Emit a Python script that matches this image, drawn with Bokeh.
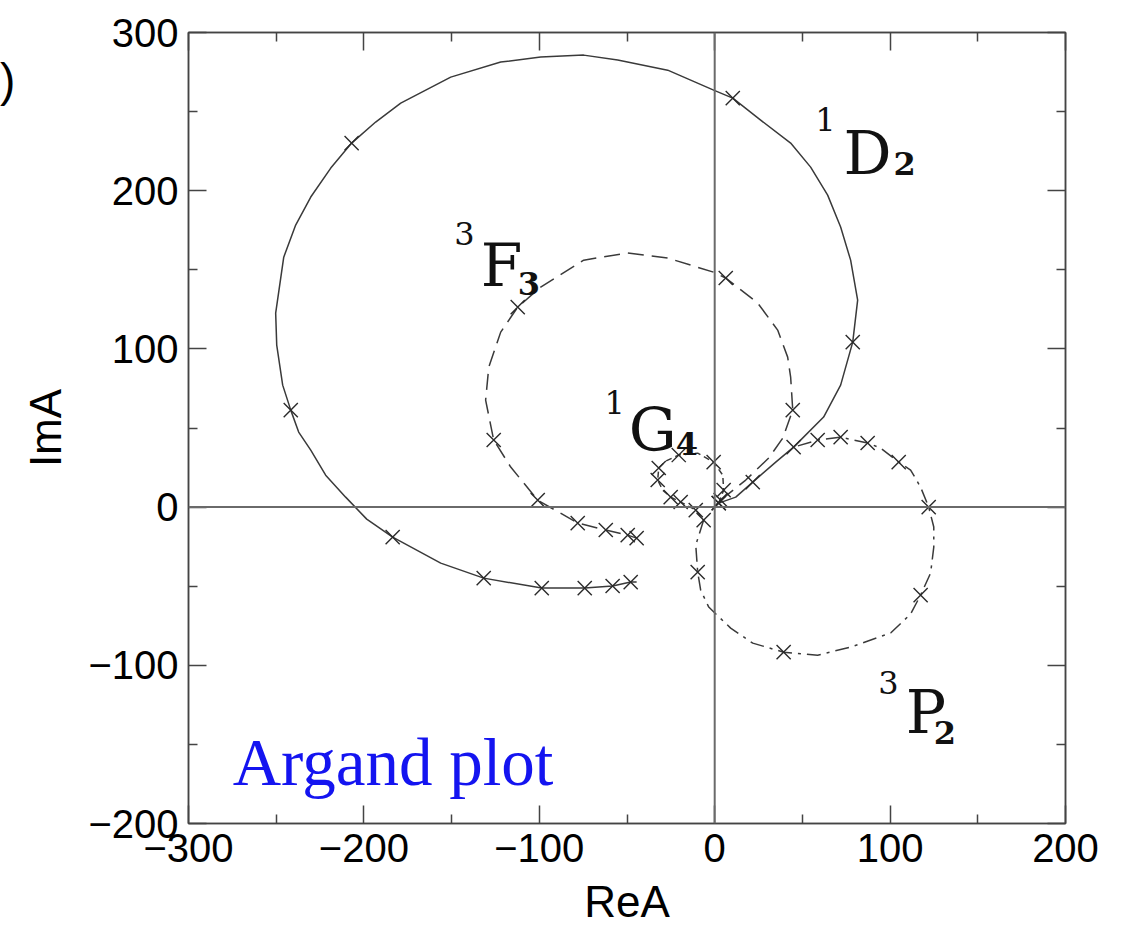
from bokeh.plotting import figure
from bokeh.models import FixedTicker, LinearAxis, Span, Label, Range1d, ColumnDataSource, Div
from bokeh.layouts import row
from bokeh.core.properties import value
from bokeh.embed import file_html
from bokeh.resources import INLINE

# ---------------- data ----------------
# 1D2 partial wave (solid line)
d2_re = [2.3, 12.0, 21.7, 34.8, 45.0, 62.1, 71.8, 78.7, 81.5, 77.5, 71.8, 64.4, 54.7, 43.3, 26.2,
         10.3, -0.6, -26.8, -55.3, -74.7, -99.2, -122.0, -150.5, -179.0, -193.3, -207.0, -218.9,
         -230.3, -238.9, -245.7, -250.3, -249.7, -246.3, -241.7, -237.2, -230.3, -221.8, -210.4,
         -198.4, -183.6, -156.2, -131.7, -98.6, -74.1, -58.2, -47.9, -44.5]
d2_im = [2.5, 6.3, 15.8, 28.4, 37.9, 56.9, 77.1, 104.3, 130.8, 156.1, 177.0, 197.2, 214.9, 230.1,
         244.6, 258.5, 263.6, 276.2, 282.6, 285.7, 284.5, 281.3, 271.8, 255.4, 243.4, 230.1, 214.3,
         196.0, 178.3, 158.0, 122.6, 102.4, 77.1, 61.3, 47.4, 36.0, 20.2, 6.3,
         -7.6, -19.0, -35.4, -44.9, -51.2, -51.2, -49.9, -47.4, -47.4]
d2_mark_re = [2.3, 21.7, 78.7, 10.3, -207.0, -241.7, -183.6, -131.7, -98.6, -74.1, -58.2, -47.9]
d2_mark_im = [2.5, 15.8, 104.3, 258.5, 230.1, 61.3, -19.0, -44.9, -51.2, -51.2, -49.9, -47.4]

# 3F3 partial wave (dashed line)
f3_re = [3.4, 17.7, 30.8, 38.8, 44.5, 43.3, 41.6, 35.9, 24.5, 6.3, -0.6, -26.8, -49.6, -74.7,
         -99.2, -112.3, -122.0, -128.8, -130.6, -126.0, -116.3, -100.9, -78.1, -62.1, -49.6, -44.5]
f3_im = [4.4, 17.1, 31.0, 43.6, 61.3, 82.2, 94.8, 111.9, 129.0, 144.8, 148.5, 157.4, 160.6, 156.1,
         139.1, 126.4, 110.6, 88.5, 67.6, 42.4, 25.3, 4.4, -10.1, -14.5, -17.7, -19.6]
f3_mark_re = [3.4, 44.5, 6.3, -112.3, -126.0, -100.9, -78.1, -62.1, -49.6, -44.5]
f3_mark_im = [4.4, 61.3, 144.8, 126.4, 42.4, 4.4, -10.1, -14.5, -17.7, -19.6]

# 1G4 partial wave (short dashes)
g4_re = [2.3, 5.1, 4.6, -0.6, -9.7, -20.5, -27.9, -31.9, -32.5, -29.6, -25.1, -19.4, -10.8, -6.3]
g4_im = [2.5, 10.7, 20.2, 28.4, 34.1, 32.9, 29.1, 24.7, 17.1, 10.7, 6.3, 3.2, -1.9, -8.2]
g4_mark_re = [2.3, 5.1, -0.6, -20.5, -31.9, -32.5, -25.1, -19.4, -10.8, -6.3]
g4_mark_im = [2.5, 10.7, 28.4, 32.9, 24.7, 17.1, 6.3, 3.2, -1.9, -8.2]

# 3P2 partial wave (dash-dot line)
p2_re = [-6.3, -10.8, -9.7, -8.0, -3.4, 9.1, 21.7, 39.3, 58.7, 77.5, 100.3, 111.7, 117.4, 123.1,
         124.9, 124.9, 122.0, 117.4, 111.7, 104.9, 94.6, 87.2, 71.8, 58.7, 45.0]
p2_im = [-8.2, -24.0, -41.1, -52.5, -63.2, -76.5, -86.0, -91.7, -93.6, -88.5, -79.6, -67.6, -55.6,
         -41.7, -25.3, -12.6, 0.0, 12.6, 23.4, 28.4, 37.3, 40.5, 44.2, 42.4, 37.9]
p2_mark_re = [-9.7, 39.3, 117.4, 122.0, 104.9, 87.2, 71.8, 58.7, 45.0]
p2_mark_im = [-41.1, -91.7, -55.6, 0.0, 28.4, 40.5, 44.2, 42.4, 37.9]

# curve labels: letter, superscript, subscript, anchor (data)
lab_letter = ["D", "F", "G", "P"]
lab_sup = ["1", "3", "1", "3"]
lab_sub = ["2", "3", "4", "2"]
lab_x = [73.5, -133.4, -49.0, 108.9]
lab_y = [224.0, 153.0, 48.7, -129.6]

x_ticks = [-300, -200, -100, 0, 100, 200]
x_tick_labels = ["\u2212300", "\u2212200", "\u2212100", "0", "100", "200"]
x_minor = [-250, -150, -50, 50, 150]
y_ticks = [-200, -100, 0, 100, 200, 300]
y_tick_labels = ["\u2212200", "\u2212100", "0", "100", "200", "300"]
y_minor = [-150, -50, 50, 150, 250]

# ---------------- styling / layout ----------------
sup_dx = [-8, -6, -4, -7]
sup_dy = [-33, -32, -28, -30]
sub_dx = [50, 37, 47, 28]
sub_dy = [11, 18, 13, 20]

INK = "#3a3a3a"

p = figure(width=1100, height=940,
           x_range=Range1d(-300, 200), y_range=Range1d(-200, 300),
           output_backend="svg", toolbar_location=None,
           min_border_left=172, min_border_right=51,
           min_border_top=32, min_border_bottom=117,
           x_axis_label="ReA", y_axis_label="ImA", margin=(0, 0, 0, 0))
p.xgrid.visible = False
p.ygrid.visible = False
p.outline_line_color = "#444444"
p.outline_line_width = 1.5
p.background_fill_color = "white"
p.border_fill_color = "white"

xt = FixedTicker(ticks=x_ticks, minor_ticks=x_minor)
yt = FixedTicker(ticks=y_ticks, minor_ticks=y_minor)

def style_axis(ax, ticker, labels, ticks, show_labels):
    ax.ticker = ticker
    ax.major_tick_in = 18
    ax.major_tick_out = 0
    ax.minor_tick_in = 9
    ax.minor_tick_out = 0
    ax.major_tick_line_color = "#444444"
    ax.minor_tick_line_color = "#444444"
    ax.major_tick_line_width = 1.5
    ax.minor_tick_line_width = 1.5
    ax.axis_line_color = "#444444"
    ax.axis_line_width = 1.5
    ax.major_label_text_font = "Liberation Sans"
    ax.major_label_text_color = "black"
    ax.major_label_text_font_size = "40px"
    if show_labels:
        ax.major_label_overrides = {t: l for t, l in zip(ticks, labels)}
    else:
        ax.major_label_overrides = {t: "" for t in ticks}
        ax.major_label_text_font_size = "10px"
        ax.major_label_standoff = 0

for ax in p.xaxis:
    style_axis(ax, xt, x_tick_labels, x_ticks, True)
    ax.major_label_standoff = 10
    ax.axis_label_standoff = 12
for ax in p.yaxis:
    style_axis(ax, yt, y_tick_labels, y_ticks, True)
    ax.major_label_standoff = 10
    ax.axis_label_standoff = 15
for ax in list(p.xaxis) + list(p.yaxis):
    ax.axis_label_text_font = "Liberation Sans"
    ax.axis_label_text_font_size = "44px"
    ax.axis_label_text_font_style = "normal"
    ax.axis_label_text_color = "black"

top_ax = LinearAxis()
style_axis(top_ax, xt, x_tick_labels, x_ticks, False)
p.add_layout(top_ax, "above")
right_ax = LinearAxis()
style_axis(right_ax, yt, y_tick_labels, y_ticks, False)
p.add_layout(right_ax, "right")

p.add_layout(Span(location=0, dimension="width", line_color="#6a6a6a", line_width=2))
p.add_layout(Span(location=0, dimension="height", line_color="#6a6a6a", line_width=2))

# curves
p.line(d2_re, d2_im, line_color=INK, line_width=1.5, line_join="round")
p.line(f3_re, f3_im, line_color=INK, line_width=1.5, line_dash="16 8")
p.line(g4_re, g4_im, line_color=INK, line_width=1.5, line_dash="6 4")
p.line(p2_re, p2_im, line_color=INK, line_width=1.5, line_dash="14 6 3 6")

for mx, my in [(d2_mark_re, d2_mark_im), (f3_mark_re, f3_mark_im),
               (g4_mark_re, g4_mark_im), (p2_mark_re, p2_mark_im)]:
    p.scatter(mx, my, marker="x", size=20, line_color="#2a2a2a", line_width=1.4)

# curve labels
src = ColumnDataSource(dict(x=lab_x, y=lab_y, letter=lab_letter, sup=lab_sup, sub=lab_sub,
                            sup_dx=sup_dx, sup_dy=sup_dy, sub_dx=sub_dx, sub_dy=sub_dy))
p.text(x="x", y="y", text="letter", source=src, text_font=value("DejaVu Serif"),
       text_font_size="60px", text_baseline="alphabetic", text_align="left", text_color="#111111")
p.text(x="x", y="y", text="sup", source=src, x_offset="sup_dx", y_offset="sup_dy",
       text_font=value("DejaVu Serif"), text_font_size="32px", text_baseline="alphabetic",
       text_align="right", text_color="#111111")
p.text(x="x", y="y", text="sub", source=src, x_offset="sub_dx", y_offset="sub_dy",
       text_font=value("DejaVu Serif"), text_font_size="32px", text_font_style="bold",
       text_baseline="alphabetic", text_align="left", text_color="#111111")

p.add_layout(Label(x=-274.8, y=-161.2, text="Argand plot", text_font="Liberation Serif",
                   text_font_size="67px", text_color="#1414f0", text_baseline="alphabetic",
                   text_align="left"))

# fragment of a panel tag at the left edge of the picture
tag = Div(text='<div style="font-family: \'Liberation Sans\'; font-size: 46px; line-height: 46px; '
               'padding-top: 57px; color: black;">)</div>',
          width=16, height=940, margin=(0, 0, 0, 0))

layout = row(tag, p, spacing=0)
open("out.html", "w").write(file_html(layout, INLINE))
